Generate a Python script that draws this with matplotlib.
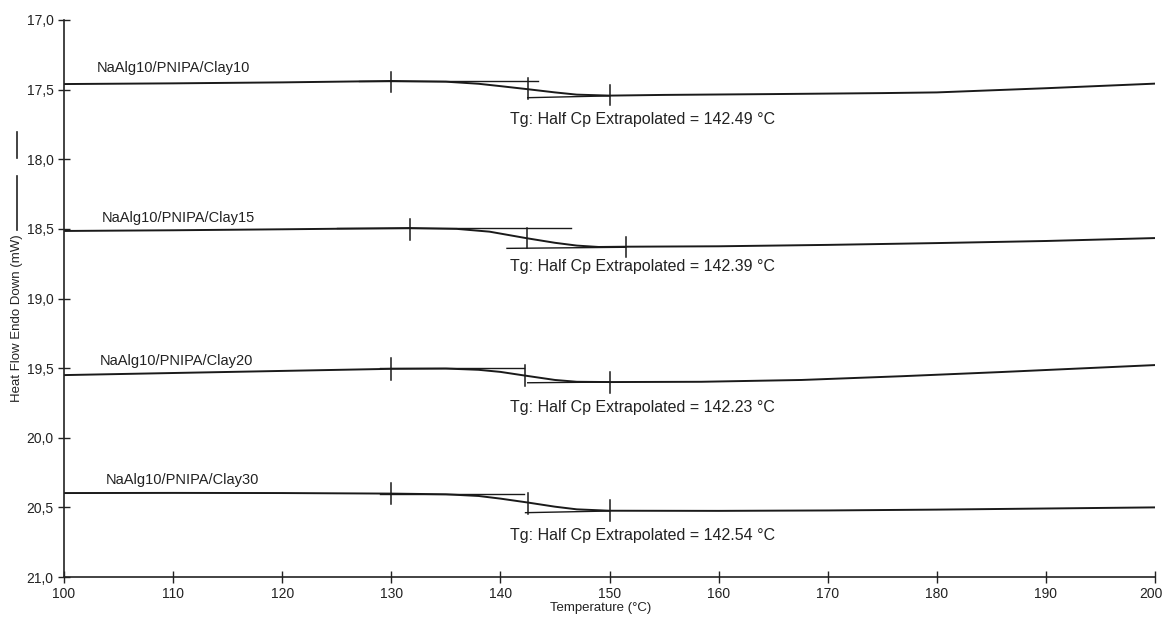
import matplotlib.pyplot as plt
from matplotlib.lines import Line2D
from matplotlib.ticker import FuncFormatter
from matplotlib.transforms import ScaledTranslation

plt.rcParams['font.family'] = ['Liberation Sans', 'DejaVu Sans']

# --- Data ---
samples = ['NaAlg10/PNIPA/Clay10', 'NaAlg10/PNIPA/Clay15',
           'NaAlg10/PNIPA/Clay20', 'NaAlg10/PNIPA/Clay30']
tg_values = [142.49, 142.39, 142.23, 142.54]

temp_10 = [100, 110, 120, 130, 135, 138, 140, 142.5, 145, 147, 150, 155, 165, 175, 180, 190, 200]
flow_10 = [17.46, 17.455, 17.448, 17.438, 17.443, 17.458, 17.475, 17.497, 17.52, 17.536,
           17.543, 17.538, 17.532, 17.525, 17.52, 17.49, 17.457]

temp_15 = [100, 110, 120, 131.7, 136, 139, 142.4, 145, 147, 149, 151.5, 160, 170, 180, 190, 200]
flow_15 = [18.515, 18.51, 18.503, 18.494, 18.5, 18.52, 18.567, 18.6, 18.62, 18.63, 18.628,
           18.625, 18.615, 18.602, 18.587, 18.566]

temp_20 = [100, 110, 120, 130, 135, 138, 140, 142.2, 145, 147, 150, 158.4, 167.6, 176.8, 185.9, 200]
flow_20 = [19.55, 19.535, 19.52, 19.505, 19.503, 19.512, 19.527, 19.553, 19.585, 19.598,
           19.6, 19.598, 19.585, 19.558, 19.528, 19.478]

temp_30 = [100, 110, 120, 130, 135, 138, 140, 142.5, 145, 147, 150, 160, 170, 180, 190, 200]
flow_30 = [20.397, 20.396, 20.397, 20.401, 20.406, 20.418, 20.437, 20.465, 20.495, 20.514,
           20.524, 20.525, 20.522, 20.516, 20.508, 20.5]

temps = [temp_10, temp_15, temp_20, temp_30]
flows = [flow_10, flow_15, flow_20, flow_30]

# extrapolated baselines: (T start, T end, level start, level end)
upper_lines = [(127, 143.4, 17.437, 17.437), (125, 146.5, 18.494, 18.494),
               (129, 142.2, 19.501, 19.501), (129, 142.2, 20.403, 20.403)]
lower_lines = [(142.5, 150, 17.558, 17.545), (140.6, 151.5, 18.64, 18.632),
               (142.5, 150, 19.605, 19.6), (142.3, 150, 20.538, 20.526)]

# analysis markers: (T, y bottom, y top)
markers = [
    [(130, 17.371, 17.515), (142.49, 17.419, 17.57), (150, 17.467, 17.61)],
    [(131.7, 18.431, 18.58), (142.39, 18.496, 18.64), (151.5, 18.556, 18.70)],
    [(130, 19.43, 19.585), (142.23, 19.478, 19.628), (150, 19.525, 19.676)],
    [(130, 20.323, 20.476), (142.54, 20.395, 20.548), (150, 20.447, 20.595)],
]

name_pos = [(103.0, 17.345), (103.5, 18.42), (103.3, 19.449), (103.8, 20.30)]
tg_text_pos = [(140.9, 17.711), (140.9, 18.767), (140.9, 19.78), (140.9, 20.70)]

# --- Plot ---
fig = plt.figure(figsize=(11.64, 6.17), dpi=100)
ax = fig.add_axes([0.055, 0.0648, 0.9373, 0.9028])

line_color = '#1a1a1a'
for i in range(len(samples)):
    ax.plot(temps[i], flows[i], color=line_color, lw=1.4, solid_capstyle='butt')
    for t0, t1, v0, v1 in (upper_lines[i], lower_lines[i]):
        ax.plot([t0, t1], [v0, v1], color=line_color, lw=1.0)
    for t, yb, yt in markers[i]:
        ax.plot([t, t], [yb, yt], color=line_color, lw=1.1)
    ax.text(name_pos[i][0], name_pos[i][1], samples[i], fontsize=10.5,
            ha='left', va='center', color='#222222')
    ax.text(tg_text_pos[i][0], tg_text_pos[i][1],
            f'Tg: Half Cp Extrapolated = {tg_values[i]:.2f} °C',
            fontsize=11.5, ha='left', va='center', color='#222222')

ax.set_xlim(100, 200)
ax.set_ylim(21.0, 17.0)
ax.set_xticks(range(100, 201, 10))
ax.set_yticks([17.0, 17.5, 18.0, 18.5, 19.0, 19.5, 20.0, 20.5, 21.0])
ax.yaxis.set_major_formatter(FuncFormatter(lambda v, p: f'{v:.1f}'.replace('.', ',')))
ax.tick_params(axis='both', direction='inout', length=8, width=1, labelsize=10, colors='#222222')
ax.spines['top'].set_visible(False)
ax.spines['right'].set_visible(False)
for s in ('left', 'bottom'):
    ax.spines[s].set_linewidth(1.2)
    ax.spines[s].set_color('#222222')

# keep the last x tick label inside the canvas
last_lbl = ax.get_xticklabels()[-1]
last_lbl.set_transform(last_lbl.get_transform() + ScaledTranslation(-4 / 100, 0, fig.dpi_scale_trans))

ax.set_xlabel('Temperature (°C)', fontsize=9.5, labelpad=1, color='#222222')
ax.xaxis.set_label_coords(0.492, -0.045)

# y label with the curve-style legend strokes
fig.text(0.0146, 0.485, 'Heat Flow Endo Down (mW)', rotation=90, fontsize=9.5,
         ha='center', va='center', color='#222222')
fig.add_artist(Line2D([0.0146, 0.0146], [1 - 158 / 617, 1 - 132 / 617], color='#222222', lw=1.2))
fig.add_artist(Line2D([0.0146, 0.0146], [1 - 230 / 617, 1 - 176 / 617], color='#222222', lw=1.2))

fig.savefig('out.png', dpi=100)
